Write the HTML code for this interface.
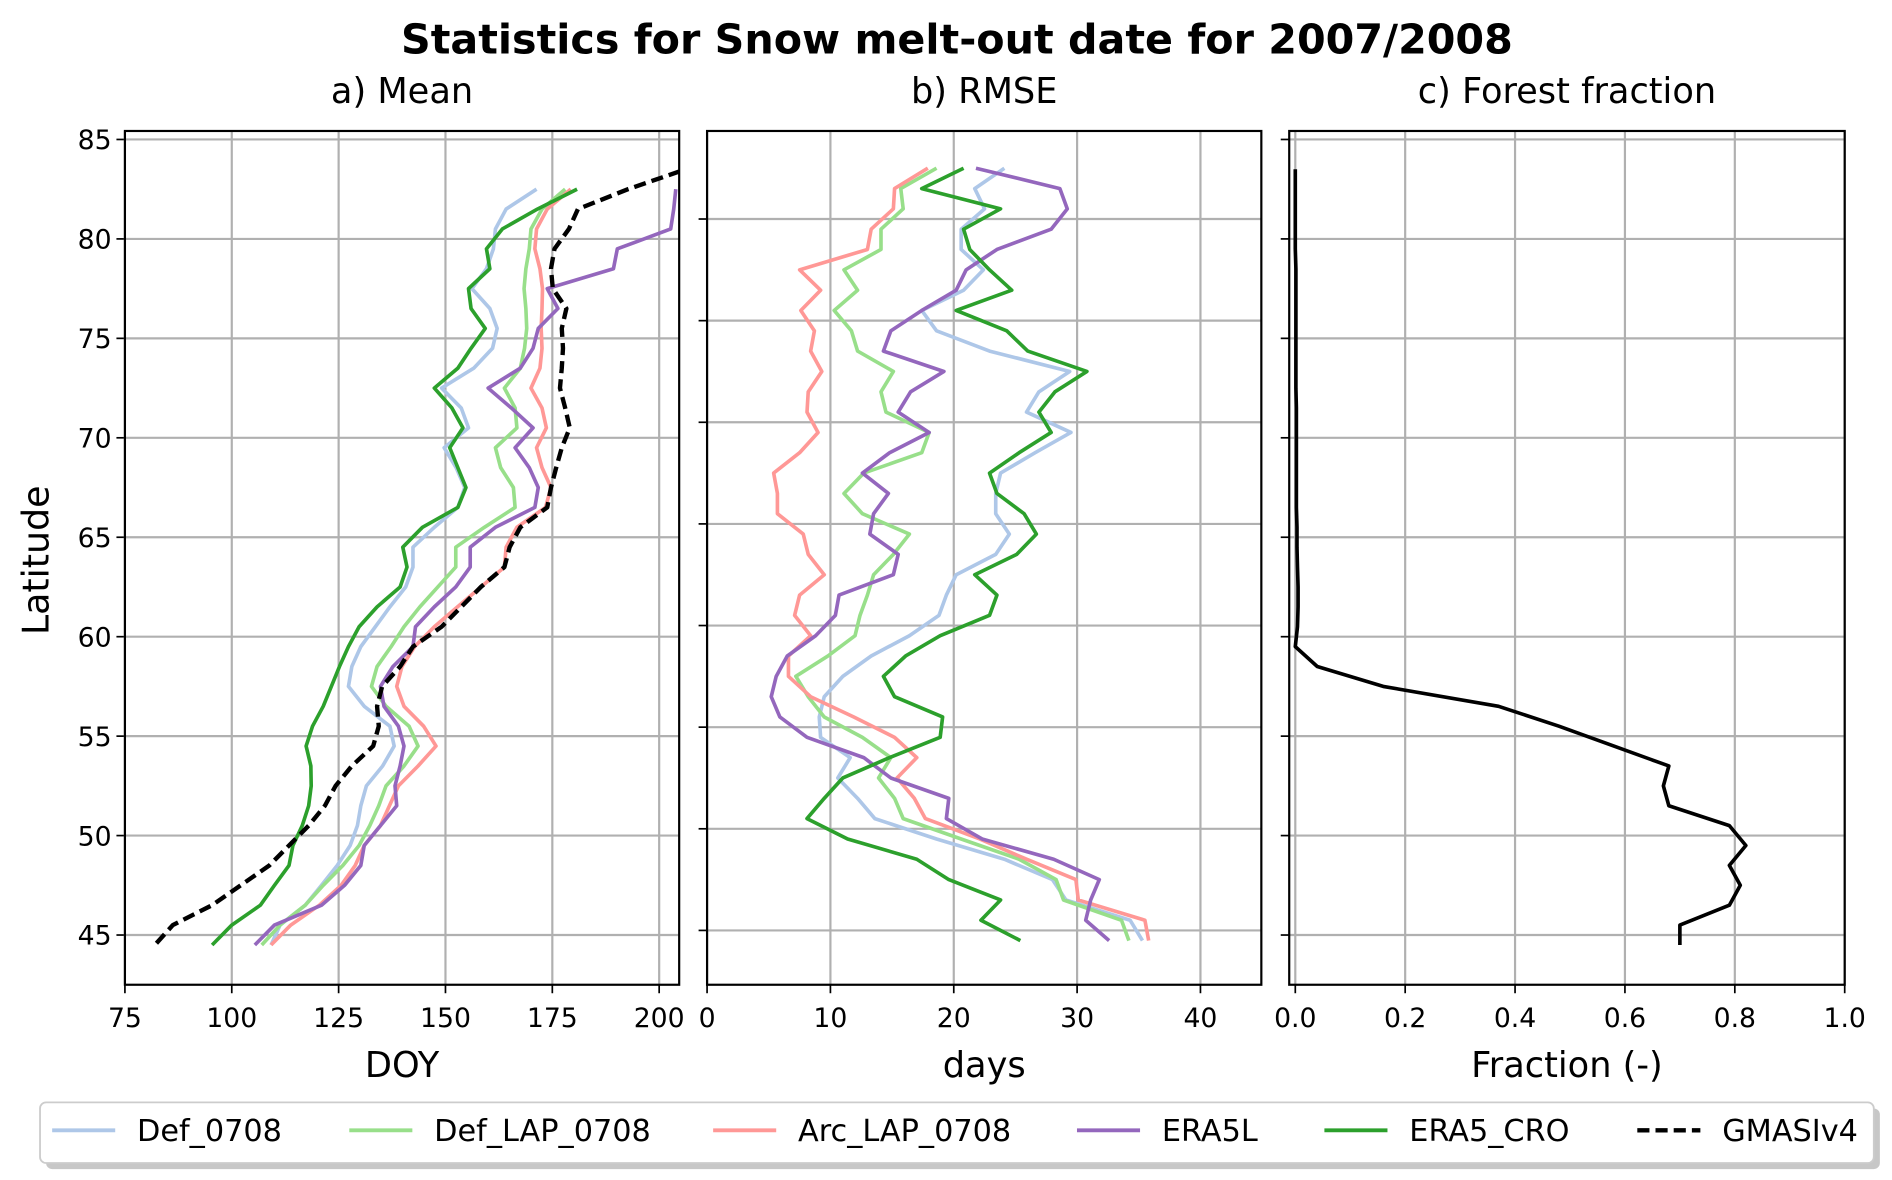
<!DOCTYPE html>
<html><head><meta charset="utf-8"><style>
html,body{margin:0;padding:0;background:#fff;}
svg{display:block;font-family:"DejaVu Sans","Liberation Sans",sans-serif;}
</style></head><body>
<svg id="chart" width="1892" height="1180" viewBox="0 0 1560 973" preserveAspectRatio="none" xmlns="http://www.w3.org/2000/svg">
<text x="789" y="44" font-size="34" font-weight="bold" text-anchor="middle">Statistics for Snow melt-out date for 2007/2008</text>
<g id="root"></g>
</svg>
<script>
// latitudes (82.5 down to 44.5) for model series
const lats = [82.5,81.5,80.5,79.5,78.5,77.5,76.5,75.5,74.5,73.5,72.5,71.5,70.5,69.5,68.5,67.5,66.5,65.5,64.5,63.5,62.5,61.5,60.5,59.5,58.5,57.5,56.5,55.5,54.5,53.5,52.5,51.5,50.5,49.5,48.5,47.5,46.5,45.5,44.5];
const latsObs = [83.4].concat(lats);
const latsForest = [83.5].concat(lats);
// Mean DOY
const meanDef = [171.3,164.2,161.7,161.2,159.6,156.2,160.4,162.1,161,156.6,149.1,153.7,155.4,149.7,152.5,154.5,152.9,147.4,142.4,142.4,140.7,137,133.6,130.2,128.1,127.3,131,137,138,135.3,131.5,130.2,129.4,127.7,124.7,121,117.2,111.3,109.2];
const meanDefLap = [178,172.6,170,169.6,168.8,168.4,168.8,169,168.5,167.5,163.8,166.3,166.7,161.7,162.9,165.9,166.3,159.1,152.4,152.4,148.2,144,140.3,137.3,134,132.7,136.1,141.5,143.6,140.3,136.1,134.4,132.3,129.8,126,121.4,117.2,111.3,107];
const meanArcLap = [179.3,173.8,171.3,170.9,172.1,172.7,172.6,172.4,172.6,172.1,170,172.6,173.6,171.3,172.6,174.7,173.4,166.7,164.2,163.8,158.3,152.8,147.4,142.8,139.8,138.6,140.3,144.9,147.8,143.6,139,136.9,134.8,131,128.9,125.6,120.5,113.8,109.2];
const meanEra5l = [203.9,203.4,202.7,190.2,189.3,173.8,176.3,171.7,170.5,167.5,160,165.4,170.5,166.3,169.6,171.7,170.9,161.7,155.8,155.8,152.4,147.4,143,142.4,137.7,134.8,135.6,139,140.3,139.4,138.2,138.6,134.8,131,130.2,126.4,121,110,105.4];
const meanEra5Cro = [180.8,171.5,163.3,159.6,160.4,155.4,156,159.3,156,152.9,147.4,151.5,154.1,151,152.9,154.8,152.9,144.6,140,141,139.4,134,129.8,127.3,125.2,123.3,121.4,118.9,117.4,118.5,118.6,118,116.5,114.3,113.4,110,106.7,100,95.4];
const meanGmasi = [204.9,192.7,181,178.9,175.5,174.7,175.1,178.3,177.2,177.5,177.2,176.8,178,179.1,177.2,175.9,174.7,173.8,167.5,165,163.8,158.3,153.7,149.1,142.4,139.4,135.2,134,134.4,133.1,128.1,124.3,121.8,118,113.4,108.8,102.1,95.4,86.2,82];
// RMSE days
const rmseDef = [24.1,21.7,22.5,20.6,20.6,22.4,20.8,17.4,18.6,22.9,29.4,26.9,25.9,29.5,26.6,23.8,23.4,23.4,24.5,23.4,20.2,19.4,18.8,16.4,13.3,11,9.5,9.1,9.2,11.6,10.6,12.2,13.6,18.6,24.1,28,29.1,34.3,35.3];
const rmseDefLap = [18.6,15.7,15.9,14.1,14.1,11.1,12.2,10.3,11.7,12.2,15.1,14.1,14.5,18,17.4,12.7,11.1,12.6,16.4,15.1,13.5,13,12.4,12,9.8,7.2,8.2,9.5,12.6,14.9,13.9,15.2,15.9,20.6,25.3,28.3,28.9,33.6,34.2];
const rmseArcLap = [17.9,15.2,15.1,13.3,13,7.5,9.2,7.6,8.7,8.4,9.3,8.2,8.1,9,7.5,5.4,5.7,5.7,7.8,8.2,9.5,7.5,7.1,8.4,6.6,6.6,8.4,11.9,15.2,17,15.4,16.8,17.7,22.1,25.9,29.9,30.1,35.5,35.8];
const rmseEra5l = [21.8,28.6,29.2,27.9,23.5,21,20.2,17.4,14.9,14.3,19.2,16.5,15.5,18,14.8,12.6,14.7,13.5,13.2,15.5,15.1,10.7,10.4,8.8,6.5,5.6,5.2,5.9,8.1,12.7,14.9,19.6,19.4,22.3,28.1,31.8,31.1,30.7,32.6];
const rmseEra5Cro = [20.8,17.4,23.8,20.8,21.3,22.9,24.7,20.2,24.3,26,30.8,28.2,26.9,27.9,25.3,22.9,23.5,25.7,26.7,25.1,21.7,23.5,22.9,18.9,16.1,14.3,15.2,19.1,18.9,14.8,11,9.5,8.1,11.4,17,19.6,23.8,22.2,25.4];
// Forest fraction
const forest = [0,0,0,0,0,0.001,0.001,0.001,0.001,0.001,0.001,0.001,0.002,0.002,0.002,0.002,0.002,0.002,0.003,0.003,0.004,0.005,0.005,0.004,0.0,0.04,0.16,0.37,0.48,0.58,0.68,0.67,0.68,0.79,0.82,0.79,0.81,0.79,0.70,0.70];
// ticks
const ticksA = [75,100,125,150,175,200];
const ticksB = [0,10,20,30,40];
const ticksC = [0.0,0.2,0.4,0.6,0.8,1.0];
const ticksLatLabels = [85,80,75,70,65,60,55,50,45];
const legendLabels = ["Def_0708","Def_LAP_0708","Arc_LAP_0708","ERA5L","ERA5_CRO","GMASIv4"];

const NS="http://www.w3.org/2000/svg";
const root=document.getElementById('root');
function mk(tag,attrs,parent){const e=document.createElementNS(NS,tag);for(const k in attrs)e.setAttribute(k,attrs[k]);(parent||root).appendChild(e);return e;}
const TOP=108,BOT=812;
const yA=lat=>115+(85-lat)*16.4;
const yB=lat=>180.6+(80-lat)*16.76;
const panels=[
 {x0:103,x1:560,sx:v=>103+(v-75)*3.524,ticks:ticksA,fmt:v=>String(v),yf:yA,gridY:yA,label:"DOY",title:"a) Mean",name:"mean"},
 {x0:583,x1:1040,sx:v=>583+v*10.17,ticks:ticksB,fmt:v=>String(v),yf:yB,gridY:yB,label:"days",title:"b) RMSE",name:"rmse"},
 {x0:1063,x1:1521,sx:v=>1068+v*453,ticks:ticksC,fmt:v=>v.toFixed(1),yf:yA,gridY:yA,label:"Fraction (-)",title:"c) Forest fraction",name:"forest"}
];
const colors=["#aec7e8","#98df8a","#ff9896","#9467bd","#2ca02c","#000"];
panels.forEach((p,pi)=>{
  const g=mk('g',{});
  
  
  const clipId='clip'+pi;
  const cp=mk('clipPath',{id:clipId},g);mk('rect',{x:p.x0,y:TOP,width:p.x1-p.x0,height:BOT-TOP},cp);
  ticksLatLabels.forEach(l=>{const y=p.gridY(l);if(y<TOP||y>BOT)return;
    const ln=mk('line',{x1:p.x0,x2:p.x1,y1:y,y2:y,stroke:'#b0b0b0','stroke-width':1.8},g);
    
    const tk=mk('line',{x1:p.x0-7,x2:p.x0,y1:y,y2:y,stroke:'#000','stroke-width':1.4},g);
    
    if(pi===0){const t=mk('text',{x:p.x0-11,y:y+8,'font-size':22,'text-anchor':'end'},g);t.textContent=l;
      }
  });
  p.ticks.forEach(v=>{const x=p.sx(v);
    const ln=mk('line',{x1:x,x2:x,y1:TOP,y2:BOT,stroke:'#b0b0b0','stroke-width':1.8},g);
    
    const tk=mk('line',{x1:x,x2:x,y1:BOT,y2:BOT+7,stroke:'#000','stroke-width':1.4},g);
    
    const t=mk('text',{x:x,y:BOT+35,'font-size':22,'text-anchor':'middle'},g);t.textContent=p.fmt(v);
    
  });
  const lg=mk('g',{'clip-path':'url(#'+clipId+')'},g);
  function series(vals,ls,col,dash,name){
    const pts=vals.map((v,i)=>p.sx(v).toFixed(1)+','+p.yf(ls[i]).toFixed(1)).join(' ');
    const pl=mk('polyline',{points:pts,fill:'none',stroke:col,'stroke-width':dash?3.6:3,'stroke-linejoin':'round','stroke-dasharray':dash?'10,5':'none'},lg);
    
    
  }
  if(pi===0){
    series(meanDef,lats,colors[0],false,'mean-def-0708-line');
    series(meanDefLap,lats,colors[1],false,'mean-def-lap-0708-line');
    series(meanArcLap,lats,colors[2],false,'mean-arc-lap-0708-line');
    series(meanEra5l,lats,colors[3],false,'mean-era5l-line');
    series(meanEra5Cro,lats,colors[4],false,'mean-era5-cro-line');
    series(meanGmasi,latsObs,colors[5],true,'mean-gmasiv4-line');
  } else if(pi===1){
    series(rmseDef,lats,colors[0],false,'rmse-def-0708-line');
    series(rmseDefLap,lats,colors[1],false,'rmse-def-lap-0708-line');
    series(rmseArcLap,lats,colors[2],false,'rmse-arc-lap-0708-line');
    series(rmseEra5l,lats,colors[3],false,'rmse-era5l-line');
    series(rmseEra5Cro,lats,colors[4],false,'rmse-era5-cro-line');
  } else {
    series(forest,latsForest,'#000',false,'forest-fraction-line');
  }
  const fr=mk('rect',{x:p.x0,y:TOP,width:p.x1-p.x0,height:BOT-TOP,fill:'none',stroke:'#000','stroke-width':1.8},g);
  
  const tt=mk('text',{x:(p.x0+p.x1)/2,y:85,'font-size':29,'text-anchor':'middle'},g);tt.textContent=p.title;
  
  const xl=mk('text',{x:(p.x0+p.x1)/2,y:888,'font-size':29,'text-anchor':'middle'},g);xl.textContent=p.label;
  
});
const yl=mk('text',{x:40,y:462,'font-size':30,'text-anchor':'middle',transform:'rotate(-90 40 462)'});
yl.textContent='Latitude';


// legend
const lgG=mk('g',{});


mk('rect',{x:38,y:914,width:1512,height:50,rx:5,fill:'#999',opacity:0.55},lgG);
mk('rect',{x:33,y:909,width:1512,height:50,rx:5,fill:'#fff',stroke:'#ccc','stroke-width':1.5},lgG);
const lx=[43,288,588,888,1092,1350];
legendLabels.forEach((s,i)=>{
  const e=mk('g',{},lgG);
  
  
  mk('line',{x1:lx[i],x2:lx[i]+52,y1:932,y2:932,stroke:colors[i],'stroke-width':i===5?3.6:3.2,'stroke-dasharray':i===5?'10,5':'none'},e);
  const t=mk('text',{x:lx[i]+70,y:941,'font-size':25},e);t.textContent=s;
});
</script>
</body></html>
